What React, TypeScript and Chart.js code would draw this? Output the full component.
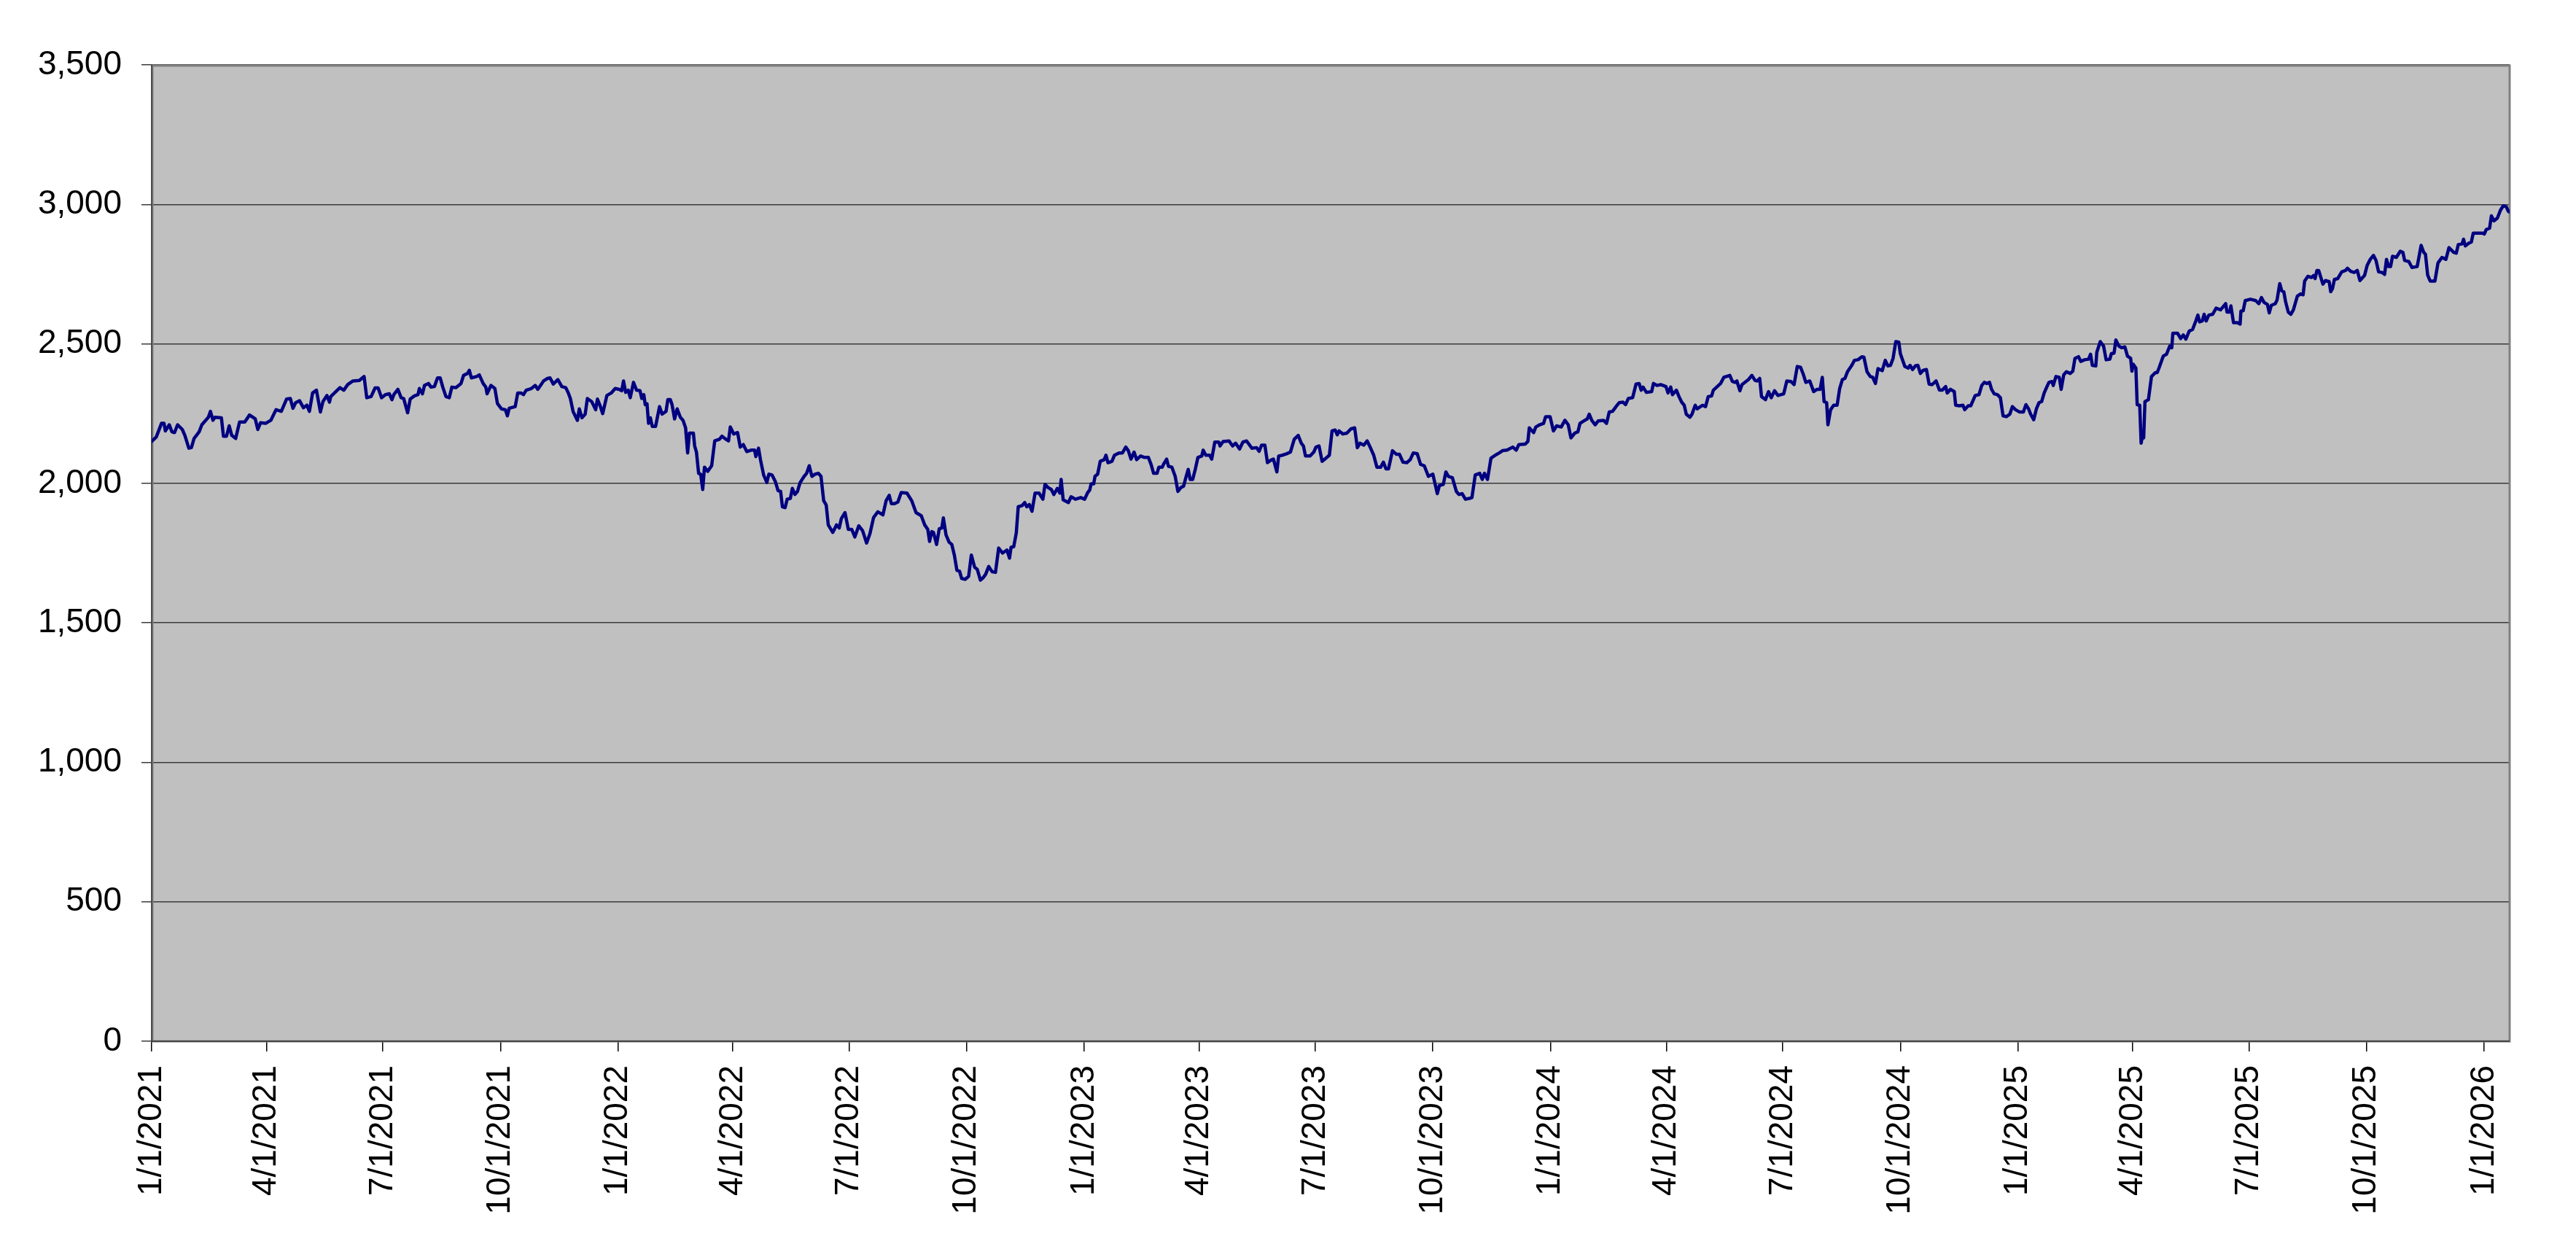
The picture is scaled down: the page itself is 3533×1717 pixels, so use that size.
import React, { useEffect, useRef } from "react";
import { Chart, registerables } from "chart.js";

Chart.register(...registerables);

// x positions are days since 1/1/2021
const tickDays = [0, 90, 181, 273, 365, 455, 546, 638, 730, 820, 911, 1003, 1095, 1186, 1277, 1369, 1461, 1551, 1642, 1734, 1826];
const tickLabels = [
  "1/1/2021", "4/1/2021", "7/1/2021", "10/1/2021",
  "1/1/2022", "4/1/2022", "7/1/2022", "10/1/2022",
  "1/1/2023", "4/1/2023", "7/1/2023", "10/1/2023",
  "1/1/2024", "4/1/2024", "7/1/2024", "10/1/2024",
  "1/1/2025", "4/1/2025", "7/1/2025", "10/1/2025",
  "1/1/2026",
];
const yTickValues = [0, 500, 1000, 1500, 2000, 2500, 3000, 3500];
const xMaxDay = 1846;

const days2021 = [0, 3.6, 7.7, 9.7, 10.7, 13.8, 15.8, 17.9, 20.3, 24.0, 26.0, 29.1, 31.1, 33.2, 37.2, 39.3, 44.4, 46.0, 48.0, 49.5, 54.6, 56.2, 58.6, 60.7, 62.7, 65.8, 68.8, 72.9, 76.6, 81.1, 83.1, 85.2, 89.2, 93.3, 97.4, 101.5, 105.6, 108.6, 110.6, 112.7, 115.8, 118.8, 121.5, 123.5, 126.0, 129.0, 132.1, 134.1, 137.2, 139.2, 140.2, 144.3, 147.4, 150.4, 153.5, 157.6, 162.6, 166.3, 168.4, 171.8, 174.9, 177.3, 180.0, 183.0, 186.1, 188.1, 189.6, 192.8, 195.3, 197.3, 200.4, 202.4, 205.5, 208.5, 209.6, 212.0, 213.6, 216.7, 218.7, 221.4, 223.8, 225.9, 227.9, 230.4, 233.0, 235.0, 238.1, 242.2, 244.2, 247.3, 248.7, 250.3, 254.4, 256.5, 259.5, 261.6, 262.6, 265.6, 268.7, 270.7, 273.8, 276.9, 278.5, 279.9, 284.6, 286.6, 289.1, 291.1, 293.2, 297.3, 300.3, 302.3, 306.8, 309.9, 311.9, 314.4, 318.0, 321.1, 324.2, 326.2, 327.8, 329.9, 333.3, 334.8, 336.8, 339.4, 341.1, 344.5, 347.6, 349.0, 351.1, 353.1, 356.4, 359.8, 362.9];
const values2021 = [2150, 2166, 2215, 2215, 2188, 2210, 2185, 2182, 2210, 2193, 2172, 2126, 2128, 2161, 2185, 2210, 2237, 2258, 2226, 2237, 2235, 2169, 2169, 2206, 2172, 2161, 2220, 2220, 2245, 2231, 2193, 2217, 2215, 2226, 2264, 2258, 2302, 2304, 2269, 2289, 2296, 2271, 2280, 2258, 2324, 2334, 2256, 2293, 2315, 2291, 2311, 2329, 2343, 2334, 2354, 2367, 2369, 2383, 2307, 2311, 2342, 2342, 2307, 2318, 2321, 2300, 2318, 2337, 2307, 2304, 2253, 2302, 2313, 2318, 2340, 2321, 2351, 2358, 2345, 2347, 2378, 2378, 2345, 2311, 2307, 2345, 2343, 2358, 2387, 2394, 2405, 2378, 2383, 2389, 2358, 2345, 2321, 2351, 2340, 2286, 2267, 2264, 2242, 2269, 2275, 2324, 2324, 2318, 2334, 2340, 2351, 2337, 2367, 2376, 2378, 2356, 2372, 2347, 2343, 2324, 2304, 2258, 2226, 2267, 2235, 2248, 2304, 2293, 2264, 2302, 2278, 2250, 2315, 2324, 2340];

const days2022 = [366.0, 368.0, 369.4, 371.1, 373.1, 374.7, 377.2, 379.6, 382.3, 383.7, 385.3, 386.4, 387.8, 389.0, 390.4, 391.9, 394.5, 397.6, 399.6, 402.7, 404.1, 406.1, 407.4, 409.4, 411.4, 413.9, 416.0, 418.0, 419.6, 421.0, 424.1, 425.1, 426.5, 428.2, 429.8, 431.4, 432.8, 435.3, 438.4, 440.8, 444.5, 446.5, 449.6, 451.6, 453.0, 455.7, 458.7, 460.8, 463.2, 465.9, 469.3, 472.0, 473.0, 475.1, 476.7, 479.1, 481.6, 483.2, 485.7, 488.3, 490.4, 492.4, 493.8, 495.9, 497.5, 500.0, 501.6, 503.6, 505.6, 507.7, 510.8, 512.8, 514.8, 516.9, 519.5, 522.0, 524.0, 526.1, 528.1, 529.7, 533.2, 536.2, 538.3, 539.9, 542.8, 545.4, 548.1, 550.5, 553.6, 556.6, 559.7, 562.3, 565.2, 568.5, 572.5, 575.0, 577.4, 579.1, 581.5, 584.2, 586.8, 591.3, 595.0, 598.4, 602.5, 605.2, 607.6, 609.0, 610.7, 612.1, 614.5, 616.6, 618.6, 619.8, 621.9, 624.3, 626.4, 628.4, 630.4, 632.5, 634.1, 637.0, 639.6, 641.7, 644.3, 646.3, 648.8, 650.8, 652.9, 655.3, 658.0, 660.6, 663.1, 666.1, 669.6, 671.6, 672.8, 674.9, 676.9, 678.4, 681.4, 683.5, 685.1, 687.1, 689.2, 691.6, 694.7, 697.7, 699.4, 701.8, 704.3, 706.3, 709.0, 711.0, 712.0, 713.6, 716.1, 717.7, 719.8, 723.2, 727.3];
const values2022 = [2337, 2332, 2367, 2326, 2334, 2307, 2362, 2334, 2332, 2304, 2318, 2282, 2285, 2215, 2235, 2204, 2204, 2275, 2248, 2258, 2300, 2300, 2282, 2231, 2267, 2237, 2226, 2199, 2109, 2180, 2180, 2134, 2112, 2036, 2033, 1978, 2058, 2043, 2063, 2152, 2158, 2169, 2158, 2152, 2202, 2177, 2182, 2130, 2139, 2114, 2119, 2119, 2096, 2126, 2083, 2030, 2003, 2033, 2030, 2006, 1974, 1971, 1916, 1913, 1943, 1946, 1982, 1960, 1971, 2003, 2025, 2036, 2063, 2025, 2033, 2036, 2025, 1938, 1922, 1851, 1824, 1851, 1840, 1873, 1895, 1835, 1835, 1808, 1848, 1830, 1786, 1819, 1878, 1898, 1887, 1938, 1957, 1927, 1927, 1933, 1967, 1965, 1938, 1895, 1884, 1851, 1835, 1792, 1827, 1824, 1781, 1837, 1840, 1876, 1815, 1789, 1781, 1743, 1688, 1685, 1659, 1656, 1667, 1743, 1699, 1692, 1653, 1661, 1674, 1702, 1683, 1681, 1768, 1750, 1761, 1732, 1771, 1773, 1822, 1916, 1920, 1931, 1916, 1924, 1900, 1965, 1965, 1943, 1996, 1985, 1978, 1960, 1982, 1965, 2014, 1941, 1935, 1931, 1952, 1943, 1949];

const days2023 = [730.4, 732.8, 734.4, 735.5, 737.5, 738.5, 740.6, 742.6, 745.7, 747.1, 748.7, 751.8, 753.8, 757.3, 760.0, 762.6, 764.6, 766.7, 769.1, 771.1, 774.2, 777.3, 780.3, 782.4, 784.4, 787.1, 788.5, 791.1, 792.6, 794.6, 796.0, 798.7, 801.3, 803.4, 805.8, 807.9, 809.9, 811.5, 813.0, 815.0, 817.0, 819.1, 822.1, 823.2, 825.2, 828.2, 829.9, 832.3, 835.4, 836.4, 838.8, 843.5, 846.2, 848.6, 851.7, 854.3, 857.2, 861.3, 865.0, 867.0, 869.0, 871.5, 873.5, 876.2, 878.2, 880.9, 882.3, 885.4, 888.4, 891.5, 894.5, 897.6, 900.0, 901.7, 903.3, 906.8, 909.8, 911.5, 913.9, 916.3, 918.0, 922.0, 924.1, 926.5, 928.2, 929.6, 932.6, 935.7, 938.8, 941.8, 943.9, 945.9, 949.0, 951.6, 954.1, 956.7, 959.2, 962.2, 964.3, 966.3, 968.3, 971.4, 974.5, 976.9, 979.6, 982.6, 985.3, 987.7, 990.8, 993.4, 996.3, 999.5, 1003.0, 1006.5, 1008.1, 1011.2, 1013.2, 1015.2, 1018.3, 1021.4, 1023.4, 1026.0, 1028.5, 1031.6, 1033.6, 1036.2, 1039.7, 1041.7, 1043.4, 1045.8, 1048.5, 1051.9, 1055.0, 1057.5, 1061.1, 1065.6, 1068.3, 1070.3, 1075.4, 1077.4, 1078.5, 1081.9, 1083.6, 1086.6, 1089.7, 1091.3, 1094.8];
const values2023 = [1943, 1967, 1976, 1998, 1998, 2025, 2033, 2079, 2085, 2101, 2074, 2079, 2101, 2109, 2109, 2130, 2117, 2087, 2112, 2085, 2098, 2093, 2093, 2068, 2036, 2036, 2058, 2058, 2072, 2087, 2061, 2058, 2025, 1971, 1985, 1990, 2025, 2050, 2014, 2014, 2050, 2093, 2098, 2119, 2101, 2101, 2087, 2148, 2148, 2134, 2150, 2152, 2134, 2144, 2123, 2148, 2152, 2126, 2128, 2115, 2137, 2137, 2074, 2083, 2087, 2041, 2098, 2101, 2106, 2112, 2158, 2172, 2144, 2134, 2098, 2098, 2112, 2130, 2134, 2079, 2085, 2101, 2188, 2191, 2174, 2188, 2177, 2180, 2195, 2199, 2128, 2144, 2137, 2152, 2128, 2101, 2058, 2058, 2076, 2052, 2052, 2117, 2104, 2104, 2076, 2074, 2085, 2109, 2106, 2068, 2063, 2025, 2033, 1963, 1992, 1996, 2041, 2025, 2020, 1971, 1960, 1963, 1943, 1946, 1949, 2030, 2036, 2014, 2036, 2014, 2090, 2101, 2109, 2117, 2119, 2130, 2119, 2139, 2141, 2150, 2199, 2182, 2202, 2210, 2215, 2239, 2239];

const days2024 = [1097.4, 1099.9, 1103.5, 1106.4, 1109.0, 1111.1, 1114.1, 1116.6, 1118.2, 1121.3, 1123.9, 1125.4, 1127.4, 1130.1, 1132.5, 1136.6, 1139.0, 1141.1, 1143.7, 1146.4, 1148.8, 1151.9, 1153.9, 1156.0, 1159.4, 1162.1, 1164.5, 1166.1, 1167.6, 1170.2, 1174.3, 1175.7, 1178.4, 1181.4, 1185.5, 1187.1, 1189.2, 1190.6, 1193.7, 1195.7, 1197.8, 1199.8, 1201.4, 1204.3, 1205.9, 1208.4, 1210.0, 1214.1, 1216.5, 1218.6, 1221.2, 1222.6, 1225.2, 1228.3, 1230.8, 1235.5, 1237.5, 1239.6, 1241.0, 1243.4, 1245.0, 1248.1, 1250.1, 1252.8, 1255.2, 1256.9, 1258.9, 1260.3, 1263.4, 1265.8, 1267.9, 1270.5, 1273.2, 1277.7, 1280.1, 1283.4, 1285.8, 1288.3, 1290.9, 1293.0, 1295.0, 1298.1, 1301.1, 1303.8, 1306.2, 1307.9, 1309.3, 1311.3, 1312.3, 1314.4, 1316.8, 1319.5, 1321.5, 1323.6, 1325.6, 1327.6, 1330.7, 1333.1, 1335.8, 1338.9, 1340.5, 1342.9, 1345.4, 1347.4, 1349.5, 1351.5, 1354.8, 1357.2, 1359.2, 1361.3, 1363.3, 1365.4, 1367.8, 1369.0, 1372.5, 1375.1, 1376.6, 1378.6, 1380.7, 1382.7, 1384.7, 1386.8, 1389.4, 1391.5, 1393.9, 1397.0, 1399.6, 1401.7, 1404.5, 1405.7, 1408.2, 1411.2, 1412.3, 1415.3, 1418.0, 1419.4, 1422.1, 1424.1, 1425.5, 1427.6, 1430.6, 1432.7, 1434.7, 1436.7, 1438.8, 1440.4, 1442.5, 1444.9, 1447.3, 1449.4, 1452.0, 1454.7, 1456.7, 1459.2];
const values2024 = [2188, 2206, 2202, 2226, 2210, 2163, 2180, 2185, 2215, 2224, 2231, 2248, 2226, 2210, 2224, 2226, 2215, 2256, 2258, 2275, 2289, 2291, 2282, 2304, 2307, 2356, 2358, 2334, 2345, 2326, 2329, 2358, 2351, 2354, 2347, 2324, 2345, 2318, 2334, 2311, 2291, 2280, 2248, 2237, 2248, 2280, 2267, 2280, 2275, 2311, 2313, 2334, 2345, 2358, 2380, 2387, 2365, 2362, 2367, 2332, 2354, 2365, 2372, 2387, 2369, 2367, 2376, 2311, 2300, 2329, 2307, 2332, 2315, 2321, 2367, 2365, 2354, 2419, 2416, 2391, 2362, 2367, 2329, 2337, 2337, 2380, 2293, 2289, 2210, 2264, 2280, 2280, 2340, 2372, 2376, 2400, 2421, 2441, 2443, 2454, 2452, 2400, 2383, 2380, 2358, 2411, 2404, 2441, 2421, 2423, 2448, 2508, 2506, 2465, 2419, 2413, 2423, 2408, 2421, 2423, 2394, 2405, 2408, 2356, 2354, 2367, 2334, 2334, 2347, 2324, 2337, 2329, 2280, 2278, 2280, 2264, 2278, 2278, 2293, 2315, 2318, 2351, 2362, 2358, 2362, 2337, 2321, 2318, 2307, 2242, 2239, 2248, 2275, 2264];

const days2025 = [1462.2, 1465.3, 1467.3, 1469.4, 1471.0, 1473.4, 1475.5, 1477.5, 1479.6, 1481.6, 1483.6, 1485.3, 1487.7, 1488.7, 1490.8, 1493.4, 1494.9, 1496.9, 1499.0, 1502.0, 1504.0, 1505.7, 1508.5, 1510.2, 1513.2, 1516.3, 1517.9, 1519.3, 1522.0, 1522.8, 1525.5, 1528.1, 1530.1, 1533.0, 1534.2, 1536.3, 1537.7, 1540.1, 1542.2, 1544.8, 1546.8, 1549.3, 1550.3, 1551.3, 1553.4, 1554.4, 1556.4, 1557.5, 1558.5, 1559.5, 1560.5, 1563.2, 1565.6, 1568.7, 1570.1, 1571.7, 1574.8, 1577.4, 1579.9, 1581.5, 1582.3, 1586.0, 1588.5, 1590.5, 1592.5, 1595.2, 1597.8, 1600.3, 1601.9, 1603.3, 1605.4, 1606.8, 1608.4, 1610.5, 1613.5, 1616.2, 1619.7, 1623.7, 1624.7, 1626.8, 1627.8, 1629.8, 1632.9, 1635.0, 1635.6, 1637.4, 1639.0, 1643.1, 1647.2, 1649.6, 1651.7, 1653.7, 1656.4, 1657.8, 1659.4, 1662.5, 1663.9, 1666.0, 1667.6, 1669.2, 1670.6, 1672.7, 1674.7, 1676.7, 1679.8, 1682.3, 1684.3, 1685.5, 1688.0, 1691.0, 1692.5, 1693.7, 1695.1, 1696.5, 1699.8, 1701.8, 1704.7, 1705.9, 1707.3, 1708.8, 1711.4, 1714.5, 1717.5, 1719.0, 1721.6, 1724.3, 1726.7, 1728.8, 1732.4, 1734.5, 1736.9, 1739.4, 1741.4, 1743.4, 1746.1, 1748.1, 1749.6, 1751.2, 1752.8, 1754.3, 1757.3, 1760.4, 1762.4, 1763.8, 1767.1, 1769.5, 1773.6, 1776.7, 1778.7, 1780.1, 1781.8, 1783.8, 1787.5, 1789.9, 1793.0, 1796.1, 1798.5, 1802.2, 1804.2, 1805.8, 1808.7, 1809.9, 1811.3, 1814.4, 1816.0, 1817.5, 1821.5, 1824.6];
const values2025 = [2256, 2256, 2282, 2267, 2248, 2228, 2267, 2289, 2293, 2324, 2345, 2362, 2365, 2351, 2383, 2380, 2337, 2389, 2400, 2394, 2402, 2448, 2454, 2437, 2443, 2445, 2463, 2423, 2421, 2470, 2508, 2492, 2443, 2445, 2465, 2467, 2514, 2492, 2486, 2489, 2456, 2448, 2402, 2427, 2413, 2282, 2280, 2144, 2169, 2163, 2293, 2300, 2383, 2397, 2397, 2416, 2456, 2463, 2492, 2486, 2538, 2538, 2519, 2532, 2517, 2546, 2552, 2582, 2603, 2579, 2582, 2606, 2582, 2603, 2606, 2628, 2622, 2644, 2614, 2614, 2636, 2576, 2576, 2571, 2617, 2619, 2655, 2660, 2655, 2644, 2666, 2649, 2641, 2611, 2638, 2644, 2657, 2716, 2690, 2687, 2651, 2614, 2606, 2622, 2671, 2679, 2676, 2725, 2742, 2738, 2745, 2734, 2763, 2763, 2714, 2727, 2723, 2687, 2698, 2731, 2734, 2758, 2763, 2771, 2760, 2756, 2763, 2727, 2745, 2782, 2803, 2817, 2799, 2758, 2756, 2749, 2803, 2777, 2777, 2814, 2810, 2832, 2828, 2799, 2795, 2774, 2777, 2853, 2828, 2821, 2747, 2725, 2725, 2790, 2810, 2803, 2845, 2828, 2825, 2856, 2858, 2875, 2851, 2862, 2865, 2897, 2897, 2897];

const days2026 = [1826.2, 1827.7, 1830.3, 1831.7, 1833.8, 1836.4, 1838.9, 1841.0, 1843.4, 1845.0, 1846.0];
const values2026 = [2894, 2910, 2915, 2959, 2941, 2951, 2980, 2995, 2991, 2975, 2973];

const FONT = '"Liberation Sans", Arial, Helvetica, sans-serif';

const plotFrame = {
  id: "plotFrame",
  beforeDraw(chart: any) {
    const { ctx, chartArea } = chart;
    const { left, top, right, bottom } = chartArea;
    ctx.save();
    ctx.fillStyle = "#ffffff";
    ctx.fillRect(0, 0, chart.width, chart.height);
    ctx.fillStyle = "#C0C0C0";
    ctx.fillRect(left, top, right - left, bottom - top);
    ctx.restore();
  },
  beforeDatasetsDraw(chart: any) {
    const { ctx, chartArea } = chart;
    const { left, top, right, bottom } = chartArea;
    ctx.save();
    ctx.strokeStyle = "#808080";
    ctx.lineWidth = 3;
    ctx.strokeRect(left + 1, top + 1, right - left - 1, bottom - top - 1);
    ctx.strokeStyle = "#333333";
    ctx.lineWidth = 1.5;
    ctx.beginPath();
    ctx.moveTo(left, top);
    ctx.lineTo(left, bottom);
    ctx.lineTo(right, bottom);
    ctx.stroke();
    ctx.restore();
  },
};

export default function App() {
  const canvasRef = useRef<HTMLCanvasElement | null>(null);

  useEffect(() => {
    document.body.style.margin = "0";
    const canvas = canvasRef.current;
    if (!canvas) return;

    const allDays = [...days2021, ...days2022, ...days2023, ...days2024, ...days2025, ...days2026];
    const allValues = [...values2021, ...values2022, ...values2023, ...values2024, ...values2025, ...values2026];
    const points = allDays.map((d, i) => ({ x: d, y: allValues[i] }));

    const chart = new Chart(canvas, {
      type: "line",
      data: {
        datasets: [
          {
            data: points,
            borderColor: "#000080",
            borderWidth: 4.5,
            borderJoinStyle: "round",
            borderCapStyle: "round",
            pointRadius: 0,
            tension: 0,
            fill: false,
          },
        ],
      },
      options: {
        responsive: false,
        animation: false,
        devicePixelRatio: 1,
        layout: { padding: { left: 0, top: 89, right: 91, bottom: 0 } },
        plugins: { legend: { display: false }, tooltip: { enabled: false } },
        scales: {
          x: {
            type: "linear",
            min: 0,
            max: xMaxDay,
            afterBuildTicks: (scale: any) => {
              scale.ticks = tickDays.map((v) => ({ value: v }));
            },
            afterFit: (scale: any) => {
              scale.height = 1717 - 1428;
            },
            ticks: {
              autoSkip: false,
              maxRotation: 90,
              minRotation: 90,
              padding: 19,
              color: "#000000",
              font: { family: FONT, size: 46 },
              callback: (value: any) => {
                const i = tickDays.indexOf(Number(value));
                return i >= 0 ? tickLabels[i] : "";
              },
            },
            grid: {
              drawOnChartArea: false,
              drawTicks: true,
              tickLength: 14,
              color: "#000000",
              lineWidth: 1.5,
            },
            border: { display: false },
          },
          y: {
            min: 0,
            max: 3500,
            afterBuildTicks: (scale: any) => {
              scale.ticks = yTickValues.map((v) => ({ value: v }));
            },
            afterFit: (scale: any) => {
              scale.width = 208;
            },
            ticks: {
              padding: 27,
              color: "#000000",
              font: { family: FONT, size: 46 },
              callback: (value: any) => Number(value).toLocaleString("en-US"),
            },
            grid: {
              drawTicks: true,
              tickLength: 14,
              color: "#3a3a3a",
              lineWidth: 1.5,
            },
            border: { display: false },
          },
        },
      },
      plugins: [plotFrame],
    });

    return () => {
      chart.destroy();
    };
  }, []);

  return (
    <div style={{ position: "fixed", left: 0, top: 0, width: 3533, height: 1717, background: "#ffffff" }}>
      <canvas ref={canvasRef} width={3533} height={1717} style={{ width: 3533, height: 1717, display: "block" }} />
    </div>
  );
}
